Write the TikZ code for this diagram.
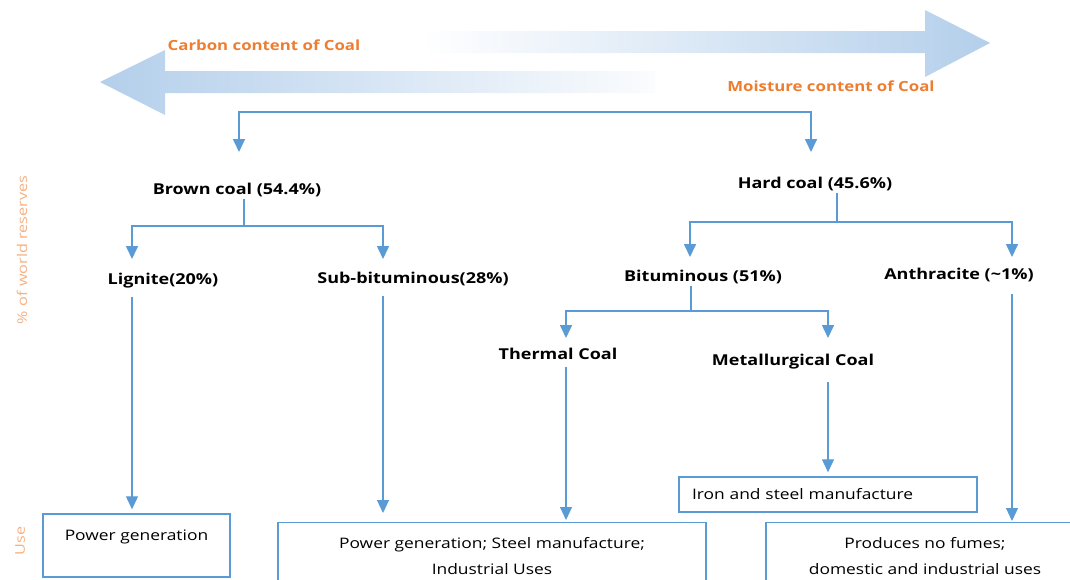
\documentclass[tikz,border=0pt]{standalone}
\usepackage{fontspec}
\setmainfont{Open Sans}[FakeStretch=1.2]
\usetikzlibrary{arrows.meta, positioning, calc}
\definecolor{linkblue}{HTML}{5B9BD5}
\definecolor{bandblue}{HTML}{B4CFEB}
\definecolor{titleorange}{HTML}{ED7D31}
\definecolor{sideorange}{HTML}{F4B183}

\begin{document}
\begin{tikzpicture}[x=1pt, y=-1pt,
    fork/.style={draw=linkblue, line width=1.6pt},
    forkarrow/.style={fork, -{Triangle[width=12pt, length=13pt]}},
    drop/.style={draw=linkblue, line width=1.1pt, -{Triangle[width=12pt, length=13pt]}},
    coal/.style={font=\fontsize{15}{17}\selectfont\bfseries, inner sep=2pt},
    usebox/.style={draw=linkblue, line width=1.4pt, font=\fontsize{14.5}{26}\selectfont, align=center},
    heading/.style={text=titleorange, font=\fontsize{14}{16}\selectfont\bfseries},
    side/.style={text=sideorange, font=\fontsize{13.5}{15}\selectfont, rotate=90}]
                        \useasboundingbox (0,0) rectangle (1070,579);
                        \clip (0,0) rectangle (1070,579);
                        \shade[left color=white, right color=bandblue]
                        (422,31) -- (925,31) -- (925,10) -- (990,43) -- (925,77) -- (925,53) -- (422,53) -- cycle;
                        \shade[left color=bandblue, right color=white!94!bandblue]
                        (100,82) -- (165,50) -- (165,71) -- (655,71) -- (655,93) -- (165,93) -- (165,115) -- cycle;
                        \node[heading] (carbon) at (264,45) {Carbon content of Coal};
                        \node[heading] (moisture) at (831,86) {Moisture content of Coal};
                        \node[side] (reserves) at (22,250) {\% of world reserves};
                        \node[side] (usage) at (20,541) {Use};
                        \node[coal] (brown) at (237,190) {Brown coal (54.4\%)};
                        \node[coal] (hard) at (815,184) {Hard coal (45.6\%)};
                        \node[coal] (lignite) at (163,281) {Lignite(20\%)};
                        \node[coal] (subbit) at (413,279) {Sub-bituminous(28\%)};
                        \node[coal] (bitum) at (703,277) {Bituminous (51\%)};
                        \node[coal] (anthr) at (959,275) {Anthracite (\textasciitilde1\%)};
                        \node[coal] (thermal) at (558,354) {Thermal Coal};
                        \node[coal] (metal) at (793,362) {Metallurgical Coal};
                        \node[usebox, minimum width=187pt, minimum height=63pt, text height=10pt, text depth=20pt] (power) at (136.5,545.5) {Power generation};
                        \node[usebox, minimum width=298pt, minimum height=35pt, text width=272pt, align=left] (iron) at (828,494.5) {Iron and steel manufacture};
                        \node[usebox, anchor=north, minimum width=428pt, inner ysep=15pt] (mixed) at (492,522) {Power generation; Steel manufacture;\\ Industrial Uses};
                        \node[usebox, anchor=north, minimum width=318pt, inner ysep=15pt] (domestic) at (925,522) {Produces no fumes;\\ domestic and industrial uses};
                        \coordinate (topleft) at (239,112);
                        \coordinate (topright) at (811,112);
                        \coordinate (browntip) at (239,152);
                        \coordinate (hardtip) at (811,152);
                        \coordinate (brownfork) at (244,226);
                        \coordinate (hardfork) at (837,222);
                        \coordinate (bitumfork) at (691,311);
                        \coordinate (lignitetip) at (132,259);
                        \coordinate (subbittip) at (383,259);
                        \coordinate (bitumtip) at (690,257);
                        \coordinate (anthrtip) at (1012,257);
                        \coordinate (thermaltip) at (566,338);
                        \coordinate (metaltip) at (828,338);
                        \draw[fork, {Triangle[width=12pt, length=13pt]}-{Triangle[width=12pt, length=13pt]}]
                        (browntip) -- (topleft) -- (topright) -- (hardtip);
                        \draw[fork] (brown.south -| brownfork) -- (brownfork);
                        \draw[forkarrow] (brownfork) -| (lignitetip);
                        \draw[forkarrow] (brownfork) -| (subbittip);
                        \draw[fork] (hard.south -| hardfork) -- (hardfork);
                        \draw[forkarrow] (hardfork) -| (bitumtip);
                        \draw[forkarrow] (hardfork) -| (anthrtip);
                        \draw[fork] (bitum.south -| bitumfork) -- (bitumfork);
                        \draw[forkarrow] (bitumfork) -| (thermaltip);
                        \draw[forkarrow] (bitumfork) -| (metaltip);
                        \draw[drop, shorten <=6pt, shorten >=4pt] (lignite.south -| lignitetip) -- (power.north -| lignitetip);
                        \draw[drop, shorten <=8pt, shorten >=9pt] (subbit.south -| subbittip) -- (mixed.north -| subbittip);
                        \draw[drop, shorten <=5pt, shorten >=2pt] (thermal.south -| thermaltip) -- (mixed.north -| thermaltip);
                        \draw[drop, shorten <=10pt, shorten >=4pt] (metal.south -| metaltip) -- (iron.north -| metaltip);
                        \draw[drop, shorten <=10pt, shorten >=1pt] (anthr.south -| anthrtip) -- (domestic.north -| anthrtip);
                    \end{tikzpicture}
\end{document}
